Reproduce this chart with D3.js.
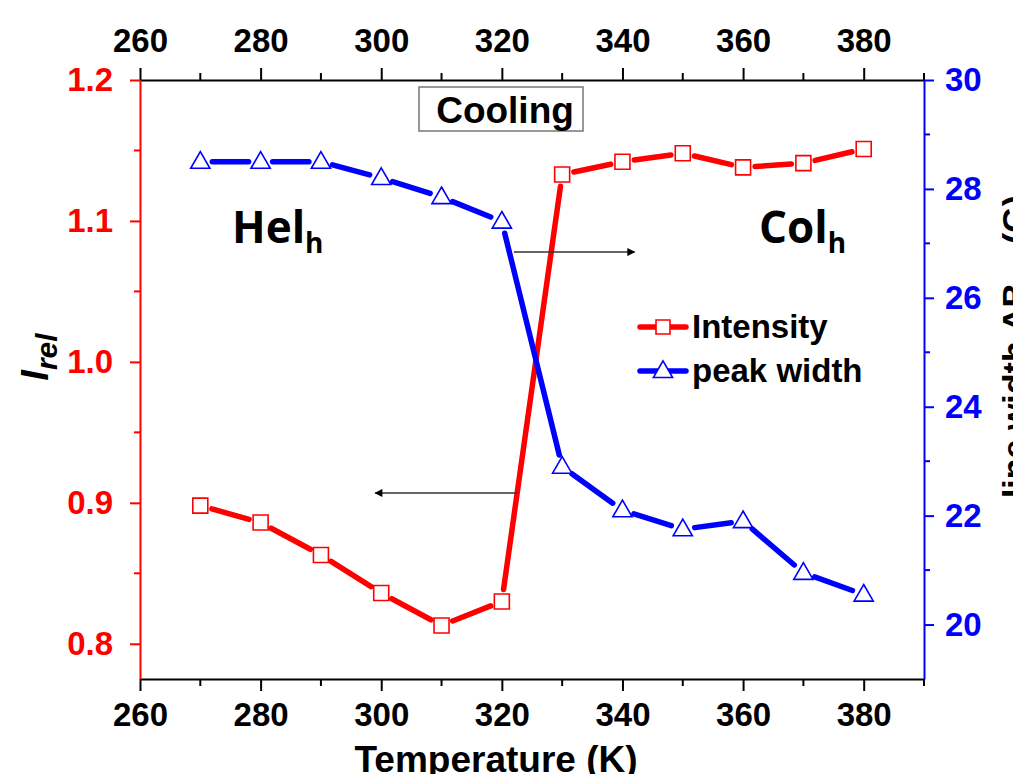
<!DOCTYPE html>
<html>
<head>
<meta charset="utf-8">
<script src="https://cdn.jsdelivr.net/npm/d3@7"></script>
<style>
  body { margin: 0; background: #fff; }
  svg { display: block; font-family: "Liberation Sans", Arial, sans-serif; }
</style>
</head>
<body>
<svg id="chart"></svg>
<script>
// temperatures (K)
const temperature = [270, 280, 290, 300, 310, 320, 330, 340, 350, 360, 370, 380];
// relative intensity (left axis)
const intensity = [0.898, 0.886, 0.863, 0.836, 0.813, 0.830, 1.133, 1.142, 1.148, 1.138, 1.141, 1.151];
// peak width in G (right axis)
const peakWidth = [28.5, 28.5, 28.5, 28.2, 27.85, 27.4, 22.9, 22.1, 21.75, 21.9, 20.95, 20.55];

const xTicks = [260, 280, 300, 320, 340, 360, 380];
const leftTicks = [0.8, 0.9, 1.0, 1.1, 1.2];
const rightTicks = [20, 22, 24, 26, 28, 30];

const width = 1013, height = 774;
const margin = { top: 80, right: 89, bottom: 95, left: 140 };
const RED = "#ff0000", BLUE = "#0000ff";

const svg = d3.select("#chart").attr("width", width).attr("height", height);

const x = d3.scaleLinear().domain([260, 390]).range([margin.left, width - margin.right]);
const yL = d3.scaleLinear().domain([0.775, 1.2]).range([height - margin.bottom, margin.top]);
const yR = d3.scaleLinear().domain([19, 30]).range([height - margin.bottom, margin.top]);

const bottomY = height - margin.bottom;
const rightX = width - margin.right;

// minor ticks
function minor(g, scale, values, orient, len, color) {
  values.forEach(v => {
    const p = scale(v);
    const l = g.append("line").attr("stroke", color).attr("stroke-width", 2);
    if (orient === "top") l.attr("x1", p).attr("x2", p).attr("y1", 0).attr("y2", -len);
    if (orient === "bottom") l.attr("x1", p).attr("x2", p).attr("y1", 0).attr("y2", len);
    if (orient === "left") l.attr("y1", p).attr("y2", p).attr("x1", 0).attr("x2", -len);
    if (orient === "right") l.attr("y1", p).attr("y2", p).attr("x1", 0).attr("x2", len);
  });
}

function styleAxis(g, color) {
  g.selectAll(".domain").attr("stroke", color).attr("stroke-width", 2);
  g.selectAll(".tick line").attr("stroke", color).attr("stroke-width", 2);
  g.selectAll(".tick text").attr("fill", color).attr("font-size", 33).attr("font-weight", "bold");
}

const xMinor = d3.range(270, 391, 20);

// bottom axis
const gB = svg.append("g").attr("transform", `translate(0,${bottomY})`)
  .call(d3.axisBottom(x).tickValues(xTicks).tickSize(12).tickPadding(12).tickSizeOuter(0));
styleAxis(gB, "#000");
minor(gB, x, xMinor.concat([390]), "bottom", 7, "#000");

// top axis
const gT = svg.append("g").attr("transform", `translate(0,${margin.top})`)
  .call(d3.axisTop(x).tickValues(xTicks).tickSize(12).tickPadding(16).tickSizeOuter(0));
styleAxis(gT, "#000");
minor(gT, x, xMinor.concat([390]), "top", 7, "#000");

// left axis
const gL = svg.append("g").attr("transform", `translate(${margin.left},0)`)
  .call(d3.axisLeft(yL).tickValues(leftTicks).tickFormat(d3.format(".1f")).tickSize(10).tickPadding(17).tickSizeOuter(0));
styleAxis(gL, RED);
minor(gL, yL, [0.85, 0.95, 1.05, 1.15], "left", 6, RED);

// right axis
const gR = svg.append("g").attr("transform", `translate(${rightX},0)`)
  .call(d3.axisRight(yR).tickValues(rightTicks).tickSize(10).tickPadding(11).tickSizeOuter(0));
styleAxis(gR, BLUE);
minor(gR, yR, [21, 23, 25, 27, 29], "right", 6, BLUE);

// series with gaps at markers
function series(vals, yScale, color, gap) {
  const pts = temperature.map((t, i) => [x(t), yScale(vals[i])]);
  const g = svg.append("g");
  for (let i = 0; i < pts.length - 1; i++) {
    const [x1, y1] = pts[i], [x2, y2] = pts[i + 1];
    const dx = x2 - x1, dy = y2 - y1, d = Math.hypot(dx, dy);
    if (d <= 2 * gap) continue;
    g.append("line")
      .attr("x1", x1 + dx / d * gap).attr("y1", y1 + dy / d * gap)
      .attr("x2", x2 - dx / d * gap).attr("y2", y2 - dy / d * gap)
      .attr("stroke", color).attr("stroke-width", 5.5).attr("stroke-linecap", "round");
  }
  return pts;
}

const redPts = series(intensity, yL, RED, 12);
const bluePts = series(peakWidth, yR, BLUE, 12);

const sq = d3.symbol().type(d3.symbolSquare).size(225);
const tri = d3.symbol().type(d3.symbolTriangle).size(160);

svg.append("g").selectAll("path").data(redPts).join("path")
  .attr("d", sq).attr("transform", d => `translate(${d[0]},${d[1]})`)
  .attr("fill", "#fff").attr("stroke", RED).attr("stroke-width", 1.6);

svg.append("g").selectAll("path").data(bluePts).join("path")
  .attr("d", tri).attr("transform", d => `translate(${d[0]},${d[1] + 1})`)
  .attr("fill", "#fff").attr("stroke", BLUE).attr("stroke-width", 1.6);

// arrows
const defs = svg.append("defs");
defs.append("marker").attr("id", "ah").attr("viewBox", "0 0 10 10")
  .attr("refX", 9).attr("refY", 5).attr("markerWidth", 12).attr("markerHeight", 8)
  .attr("markerUnits", "userSpaceOnUse").attr("orient", "auto")
  .append("path").attr("d", "M0,0 L10,5 L0,10 Z").attr("fill", "#000");

svg.append("line").attr("x1", x(322)).attr("x2", x(342)).attr("y1", yR(26.84)).attr("y2", yR(26.84))
  .attr("stroke", "#333").attr("stroke-width", 1.5).attr("marker-end", "url(#ah)");
svg.append("line").attr("x1", x(322.5)).attr("x2", x(299)).attr("y1", yL(0.907)).attr("y2", yL(0.907))
  .attr("stroke", "#333").attr("stroke-width", 1.5).attr("marker-end", "url(#ah)");

// Cooling box
svg.append("rect").attr("x", 419).attr("y", 87).attr("width", 164).attr("height", 44)
  .attr("fill", "#fff").attr("stroke", "#777").attr("stroke-width", 1.5);
svg.append("text").attr("x", 505).attr("y", 123).attr("text-anchor", "middle")
  .attr("font-size", 37).attr("font-weight", "bold").text("Cooling");

// phase labels
const phase = (px, py, main) => {
  const t = svg.append("text").attr("x", px).attr("y", py)
    .attr("font-family", "'Open Sans', Lato, sans-serif").attr("font-weight", "bold").attr("font-size", 44);
  t.append("tspan").text(main);
  t.append("tspan").attr("font-size", 28).attr("dy", 10).text("h");
};
phase(232, 243, "Hel");
phase(759, 243, "Col");

// legend
const legend = [
  { label: "Intensity", color: RED, sym: sq, y: 327 },
  { label: "peak width", color: BLUE, sym: tri, y: 371 }
];
const lg = svg.append("g");
legend.forEach(d => {
  lg.append("line").attr("x1", 640).attr("x2", 686).attr("y1", d.y).attr("y2", d.y)
    .attr("stroke", d.color).attr("stroke-width", 5.5).attr("stroke-linecap", "round");
  lg.append("path").attr("d", d.sym.size(d.sym === sq ? 196 : 160)())
    .attr("transform", `translate(663,${d.y + (d.sym === tri ? 1 : 0)})`)
    .attr("fill", "#fff").attr("stroke", d.color).attr("stroke-width", 1.6);
  lg.append("text").attr("x", 692).attr("y", d.y + 11).attr("font-size", 33)
    .attr("font-weight", "bold").text(d.label);
});

// axis titles
svg.append("text").attr("x", 496).attr("y", 772).attr("text-anchor", "middle")
  .attr("font-size", 37).attr("font-weight", "bold").text("Temperature (K)");

const lt = svg.append("text").attr("transform", "translate(48,357) rotate(-90)")
  .attr("text-anchor", "middle").attr("font-size", 38).attr("font-weight", "bold").attr("font-style", "italic");
lt.append("tspan").text("I");
lt.append("tspan").attr("font-size", 30).attr("dy", 9).text("rel");

const rt = svg.append("text").attr("transform", "translate(1026,195) rotate(-90)")
  .attr("text-anchor", "end").attr("font-size", 34).attr("font-weight", "bold");
rt.append("tspan").text("line width ΔB");
rt.append("tspan").attr("font-size", 24).attr("dy", 8).text("pp");
rt.append("tspan").attr("dy", -8).text(" (G)");
</script>
</body>
</html>
